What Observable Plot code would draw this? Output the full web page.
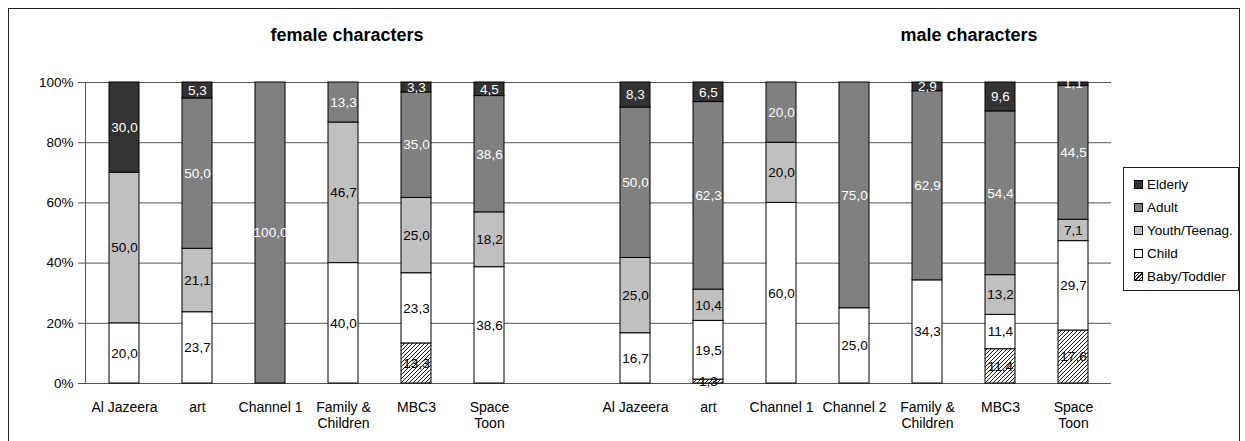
<!DOCTYPE html>
<html>
<head>
<meta charset="utf-8">
<script src="https://cdn.jsdelivr.net/npm/d3@7"></script>
<script src="https://cdn.jsdelivr.net/npm/@observablehq/plot@0.6"></script>
<style>
  html, body { margin: 0; padding: 0; background: white; overflow: hidden; }
  body { font-family: "Liberation Sans", Arial, sans-serif; }
  #wrap { position: relative; width: 1245px; height: 441px; }
  #frame { position: absolute; left: 8px; top: 8px; width: 1232px; height: 500px; border: 1px solid #222; box-sizing: border-box; }
  .title { position: absolute; top: 26px; font-weight: bold; font-size: 18px; line-height: 18px; white-space: nowrap; transform: translateX(-50%); }
  #chart { position: absolute; left: 0; top: 60px; }
  #legend { position: absolute; left: 1123px; top: 167px; width: 116px; height: 124px; border: 1px solid #222; box-sizing: border-box; background: white; font-size: 13.5px; }
  .item { position: absolute; left: 10px; height: 16px; line-height: 16px; white-space: nowrap; }
  .sw { display: inline-block; width: 7px; height: 7px; border: 1px solid #000; vertical-align: middle; margin-right: 4px; position: relative; top: -1px; }
</style>
</head>
<body>
<div id="wrap">
  <div id="frame"></div>
  <div class="title" id="tf" style="left:347px">female characters</div>
  <div class="title" id="tm" style="left:969px">male characters</div>
  <div id="chart"></div>
  <div id="legend"></div>
</div>
<script>
// ---- data ----
const femaleChannels = ["Al Jazeera", "art", "Channel 1", "Family &\nChildren", "MBC3", "Space\nToon"];
const maleChannels = ["Al Jazeera", "art", "Channel 1", "Channel 2", "Family &\nChildren", "MBC3", "Space\nToon"];
const ageGroups = ["Baby/Toddler", "Child", "Youth/Teenag.", "Adult", "Elderly"];

const femaleBaby    = [0, 0, 0, 0, 13.3, 0];
const femaleChild   = [20.0, 23.7, 0, 40.0, 23.3, 38.6];
const femaleYouth   = [50.0, 21.1, 0, 46.7, 25.0, 18.2];
const femaleAdult   = [0, 50.0, 100.0, 13.3, 35.0, 38.6];
const femaleElderly = [30.0, 5.3, 0, 0, 3.3, 4.5];

const maleBaby    = [0, 1.3, 0, 0, 0, 11.4, 17.6];
const maleChild   = [16.7, 19.5, 60.0, 25.0, 34.3, 11.4, 29.7];
const maleYouth   = [25.0, 10.4, 20.0, 0, 0, 13.2, 7.1];
const maleAdult   = [50.0, 62.3, 20.0, 75.0, 62.9, 54.4, 44.5];
const maleElderly = [8.3, 6.5, 0, 0, 2.9, 9.6, 1.1];

const yTicks = [0, 0.2, 0.4, 0.6, 0.8, 1];

// ---- styles ----
const fills = ["url(#hatch)", "#ffffff", "#c0c0c0", "#808080", "#333333"];
const darkGroups = new Set(["Adult", "Elderly"]);

// ---- build table ----
const femaleSeries = [femaleBaby, femaleChild, femaleYouth, femaleAdult, femaleElderly];
const maleSeries = [maleBaby, maleChild, maleYouth, maleAdult, maleElderly];
const slotKeys = [];
const slotLabel = {};
femaleChannels.forEach((c, i) => { const k = "F" + i; slotKeys.push(k); slotLabel[k] = c; });
slotKeys.push("gap"); slotLabel["gap"] = "";
maleChannels.forEach((c, i) => { const k = "M" + i; slotKeys.push(k); slotLabel[k] = c; });

const rows = [];
ageGroups.forEach((age, a) => {
  femaleSeries[a].forEach((v, i) => { if (v > 0) rows.push({key: "F" + i, age, value: v}); });
  maleSeries[a].forEach((v, i) => { if (v > 0) rows.push({key: "M" + i, age, value: v}); });
});
const fmt = v => v.toFixed(1).replace(".", ",");
const stackOpts = {x: "key", y: "value", z: "age", order: ageGroups, offset: "normalize"};

const chart = Plot.plot({
  width: 1245,
  height: 381,
  marginLeft: 85,
  marginRight: 134,
  marginTop: 22,
  marginBottom: 58,
  style: {fontFamily: "'Liberation Sans', Arial, sans-serif", fontSize: "12px", color: "black", background: "transparent", overflow: "visible"},
  x: {domain: slotKeys, paddingInner: 0.59, paddingOuter: 0.295, label: null},
  y: {domain: [0, 1], label: null},
  color: {domain: ageGroups, range: fills},
  marks: [
    Plot.gridY(yTicks, {stroke: "#555", strokeOpacity: 1, strokeWidth: 1}),
    Plot.barY(rows, Plot.stackY({...stackOpts, fill: "age", stroke: "black", strokeWidth: 1})),
    Plot.text(rows, Plot.stackY({...stackOpts, text: d => darkGroups.has(d.age) ? null : fmt(d.value), fill: "black", fontSize: 13.5})),
    Plot.text(rows, Plot.stackY({...stackOpts, text: d => darkGroups.has(d.age) ? fmt(d.value) : null, fill: "white", fontSize: 13.5})),
    Plot.axisY({ticks: yTicks, tickFormat: d => Math.round(d * 100) + "%", tickSize: 7, tickPadding: 5, fontSize: 13.5, stroke: "#555", label: null}),
    Plot.axisX({tickSize: 0, tickPadding: 17, tickFormat: k => slotLabel[k], lineHeight: 1.15, fontSize: 14, label: null})
  ]
});
const ns = "http://www.w3.org/2000/svg";
const defs = document.createElementNS(ns, "defs");
defs.innerHTML = '<pattern id="hatch" patternUnits="userSpaceOnUse" width="4" height="4">' +
  '<rect width="4" height="4" fill="white"/>' +
  '<path d="M-1,1 l2,-2 M0,4 l4,-4 M3,5 l2,-2" stroke="black" stroke-width="0.9"/></pattern>';
chart.insertBefore(defs, chart.firstChild);
// y axis line
const axisLine = document.createElementNS(ns, "line");
axisLine.setAttribute("x1", 85.5); axisLine.setAttribute("x2", 85.5);
axisLine.setAttribute("y1", 22); axisLine.setAttribute("y2", 323);
axisLine.setAttribute("stroke", "#555");
chart.appendChild(axisLine);
document.getElementById("chart").appendChild(chart);

// legend (top to bottom: Elderly ... Baby/Toddler)
const legend = document.getElementById("legend");
const legendOrder = ageGroups.slice().reverse();
legendOrder.forEach((age, i) => {
  const item = document.createElement("div");
  item.className = "item";
  item.style.top = (9 + i * 23) + "px";
  const sw = document.createElement("span");
  sw.className = "sw";
  const idx = ageGroups.indexOf(age);
  if (idx === 0) {
    sw.style.background = "repeating-linear-gradient(-45deg, #fff 0 1.5px, #000 1.5px 2.5px)";
  } else {
    sw.style.background = fills[idx];
  }
  item.appendChild(sw);
  item.appendChild(document.createTextNode(age));
  legend.appendChild(item);
});
</script>
</body>
</html>
